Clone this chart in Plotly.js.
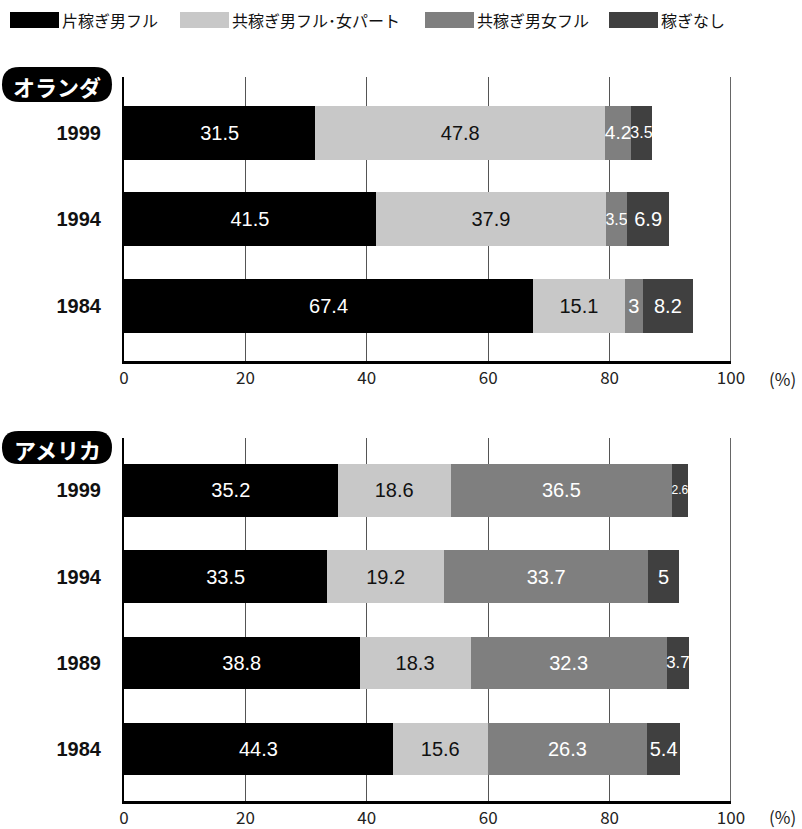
<!DOCTYPE html>
<html>
<head>
<meta charset="utf-8">
<script src="https://cdn.plot.ly/plotly-3.0.1.min.js"></script>
<style>
  html, body { margin: 0; padding: 0; background: #fff; }
  #chart { width: 802px; height: 829px; }
</style>
</head>
<body>
<div id="chart"></div>
<script>
// Household work patterns (%), Netherlands and USA
const seriesNames = ['片稼ぎ男フル', '共稼ぎ男フル･女パート', '共稼ぎ男女フル', '稼ぎなし'];
const seriesColors = ['#000000', '#c8c8c8', '#7f7f7f', '#404040'];
const labelColors = ['#ffffff', '#111111', '#ffffff', '#ffffff'];

const nlYears = ['1999', '1994', '1984'];
const nlSingleMaleFull = [31.5, 41.5, 67.4];
const nlMaleFullFemalePart = [47.8, 37.9, 15.1];
const nlBothFull = [4.2, 3.5, 3];
const nlNoEarner = [3.5, 6.9, 8.2];

const usYears = ['1999', '1994', '1989', '1984'];
const usSingleMaleFull = [35.2, 33.5, 38.8, 44.3];
const usMaleFullFemalePart = [18.6, 19.2, 18.3, 15.6];
const usBothFull = [36.5, 33.7, 32.3, 26.3];
const usNoEarner = [2.6, 5, 3.7, 5.4];

const xTickVals = [0, 20, 40, 60, 80, 100];
const panelTitles = ['オランダ', 'アメリカ'];

const W = 802, H = 829;
const px = v => v / W;          // pixel -> paper x
const py = v => 1 - v / H;      // pixel -> paper y

const plotLeft = 124, plotRight = 731;
const pxPerPct = (plotRight - plotLeft) / 100;

const numFont = 'Liberation Sans, Arial, sans-serif';
const baseLabelSize = 20;

// font size that lets a value label sit inside its segment (Arial-like metrics)
function fitSize(v) {
  const s = String(v);
  let em = 0;
  for (const ch of s) em += (ch === '.') ? 0.278 : 0.556;
  return Math.min(baseLabelSize, (v * pxPerPct + 1) / em);
}

function makeTraces(years, groups, xa, ya, barWidth) {
  return groups.map((vals, i) => ({
    type: 'bar',
    orientation: 'h',
    name: seriesNames[i],
    x: vals,
    y: years,
    xaxis: xa,
    yaxis: ya,
    width: barWidth,
    marker: { color: seriesColors[i], line: { width: 0 } },
    text: vals.map(v => String(v)),
    textposition: 'inside',
    insidetextanchor: 'middle',
    textangle: 0,
    constraintext: 'none',
    textfont: { family: numFont, size: vals.map(fitSize), color: labelColors[i] },
    hoverinfo: 'skip',
    showlegend: false
  }));
}

const traces = [
  ...makeTraces(nlYears, [nlSingleMaleFull, nlMaleFullFemalePart, nlBothFull, nlNoEarner], 'x', 'y', 0.626),
  ...makeTraces(usYears, [usSingleMaleFull, usMaleFullFemalePart, usBothFull, usNoEarner], 'x2', 'y2', 0.61)
];

const xCommon = {
  range: [0, 100],
  domain: [px(plotLeft), px(plotRight)],
  tickvals: xTickVals,
  ticktext: xTickVals.map(String),
  ticks: '',
  showgrid: true,
  gridcolor: '#555555',
  gridwidth: 1,
  zeroline: false,
  showline: true,
  linecolor: '#000000',
  linewidth: 3,
  tickfont: { family: 'Noto Sans CJK JP, sans-serif', size: 17, color: '#222222' },
  fixedrange: true
};

const yCommon = {
  type: 'category',
  ticks: '',
  ticklabelstandoff: 17,
  showgrid: false,
  zeroline: false,
  showline: true,
  linecolor: '#000000',
  linewidth: 2,
  tickfont: { family: 'Liberation Sans, Arial, sans-serif', size: 20, color: '#111111', weight: 'bold' },
  fixedrange: true
};

const layout = {
  width: W,
  height: H,
  margin: { l: 0, r: 0, t: 0, b: 0 },
  paper_bgcolor: '#ffffff',
  plot_bgcolor: '#ffffff',
  barmode: 'stack',
  showlegend: false,
  xaxis: Object.assign({}, xCommon, { anchor: 'y' }),
  yaxis: Object.assign({}, yCommon, {
    domain: [py(361), py(77)],
    categoryorder: 'array',
    categoryarray: nlYears.slice().reverse(),
    range: [-0.643, 2.649],
    anchor: 'x'
  }),
  xaxis2: Object.assign({}, xCommon, { anchor: 'y2' }),
  yaxis2: Object.assign({}, yCommon, {
    domain: [py(801), py(438)],
    categoryorder: 'array',
    categoryarray: usYears.slice().reverse(),
    range: [-0.603, 3.609],
    anchor: 'x2'
  }),
  shapes: [],
  annotations: []
};

// right-hand frame line at 100%
[['x', 'y'], ['x2', 'y2']].forEach(([xa, ya]) => {
  layout.shapes.push({
    type: 'line', xref: xa, yref: ya + ' domain',
    x0: 100, x1: 100, y0: 0, y1: 1,
    line: { color: '#666666', width: 2 }, layer: 'below'
  });
});

// "(%)" unit label next to each x axis
[378, 816].forEach(yp => {
  layout.annotations.push({
    xref: 'paper', yref: 'paper', x: px(782), y: py(yp),
    text: '(%)', showarrow: false, xanchor: 'center', yanchor: 'middle',
    font: { family: 'Noto Sans CJK JP, sans-serif', size: 17, color: '#222222' }
  });
});

// rounded black tags for the country names
function pill(x0, y0, x1, y1) {
  const r = (y1 - y0) / 2;
  const P = (x, y) => px(x).toFixed(5) + ',' + py(y).toFixed(5);
  return 'M' + P(x0 + r, y0) + ' L' + P(x1 - r, y0) +
         ' Q' + P(x1, y0) + ' ' + P(x1, y0 + r) +
         ' Q' + P(x1, y1) + ' ' + P(x1 - r, y1) +
         ' L' + P(x0 + r, y1) +
         ' Q' + P(x0, y1) + ' ' + P(x0, y0 + r) +
         ' Q' + P(x0, y0) + ' ' + P(x0 + r, y0) + ' Z';
}
[[67, 102], [431, 464]].forEach(([t, b], i) => {
  layout.shapes.push({
    type: 'path', xref: 'paper', yref: 'paper',
    path: pill(2, t, 112, b),
    fillcolor: '#000000', line: { width: 0 }
  });
  layout.annotations.push({
    xref: 'paper', yref: 'paper', x: px(57), y: py((t + b) / 2 + 1),
    text: '<b>' + panelTitles[i] + '</b>', showarrow: false,
    xanchor: 'center', yanchor: 'middle',
    font: { family: 'Noto Sans CJK JP, sans-serif', size: 22, color: '#ffffff' }
  });
});

// legend row: wide swatches followed by series names
const legendSwatchX = [10, 180, 425, 609];
seriesNames.forEach((name, i) => {
  const x0 = legendSwatchX[i];
  layout.shapes.push({
    type: 'rect', xref: 'paper', yref: 'paper',
    x0: px(x0), x1: px(x0 + 49), y0: py(28), y1: py(12),
    fillcolor: seriesColors[i], line: { width: 0 }
  });
  layout.annotations.push({
    xref: 'paper', yref: 'paper', x: px(x0 + 50), y: py(20),
    text: name, showarrow: false, xanchor: 'left', yanchor: 'middle',
    font: { family: 'Noto Sans CJK JP, sans-serif', size: 16, color: '#111111' }
  });
});

Plotly.newPlot('chart', traces, layout, { displayModeBar: false, staticPlot: true });
</script>
</body>
</html>
